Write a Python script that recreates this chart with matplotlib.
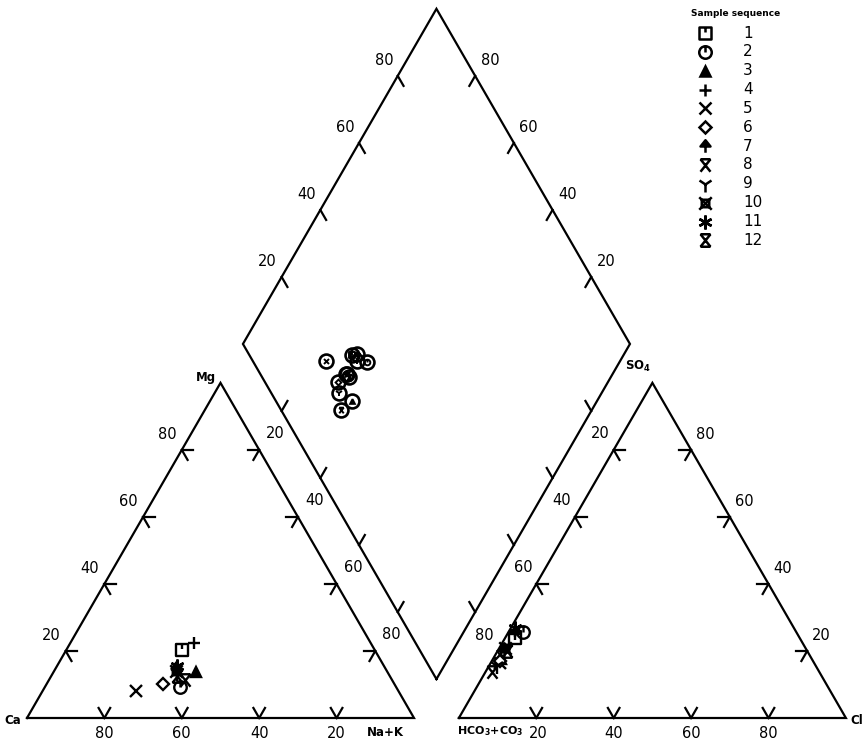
import numpy as np
import matplotlib
matplotlib.use("Agg")
import matplotlib.pyplot as plt
from matplotlib.path import Path

# ---------------- data (percent of meq/L) ----------------
samples = ["1", "2", "3", "4", "5", "6", "7", "8", "9", "10", "11", "12"]
mg  = [20.3, 9.3, 13.8, 22.4, 8.1, 10.1, 15.0, 11.3, 13.5, 14.0, 15.5, 12.5]
nak = [29.8, 34.9, 36.8, 32.0, 24.1, 30.2, 31.0, 35.2, 32.0, 31.5, 31.0, 32.5]
so4 = [24.0, 25.6, 17.5, 25.0, 16.5, 17.0, 20.5, 13.7, 15.5, 21.0, 27.0, 20.0]
cl  = [2.5, 3.8, 2.2, 2.0, 2.5, 2.0, 1.5, 1.8, 2.0, 1.5, 1.0, 2.5]
tick_vals = [20, 40, 60, 80]
legend_title = "Sample sequence"

# ---------------- geometry ----------------
PX = 3.87          # pixels per unit
X0, Y0 = 27, 718   # pixel of Ca vertex
G = 11.6           # gap between triangles
S = np.sqrt(3) / 2

def px2d(px, py):
    return ((px - X0) / PX, (Y0 - py) / PX)

def cat_xy(m, n):
    return n + 0.5 * m, S * m

def an_xy(s, c):
    return 100 + G + c + 0.5 * s, S * s

def dia_xy(camg, so4cl):
    return 100 + G / 2 + 0.5 * (so4cl - camg), S * G + S * (camg + so4cl)

fig = plt.figure(figsize=(8.65, 7.52), dpi=100)
ax = fig.add_axes([0, 0, 1, 1])
ax.set_xlim(-X0 / PX, (865 - X0) / PX)
ax.set_ylim((Y0 - 752) / PX, Y0 / PX)
ax.axis("off")

LW = 1.6
K = "black"

# outlines
cA = np.array([0, 0]); cB = np.array([100, 0]); cC = np.array([50, 100 * S])
off = np.array([100 + G, 0])
aA = cA + off; aB = cB + off; aC = cC + off
B = np.array([100 + G / 2, S * G])
R = B + 100 * np.array([0.5, S])
T = B + np.array([0, 200 * S])
L = B + 100 * np.array([-0.5, S])

for poly in ([cA, cB, cC, cA], [aA, aB, aC, aA], [B, R, T, L, B]):
    p = np.array(poly)
    ax.plot(p[:, 0], p[:, 1], color=K, lw=LW, solid_joinstyle="miter")

TL = 3.0
def dirv(deg):
    return np.array([np.cos(np.radians(deg)), np.sin(np.radians(deg))])

def ticks(P0, P1, angles):
    pts = []
    for t in tick_vals:
        pt = P0 + (P1 - P0) * t / 100
        for a in angles:
            e = pt + TL * dirv(a)
            ax.plot([pt[0], e[0]], [pt[1], e[1]], color=K, lw=LW)
        pts.append(pt)
    return pts

# triangle ticks
cb = ticks(cA, cB, [60, 120])
cl_ = ticks(cA, cC, [0, -60])
cr = ticks(cC, cB, [180, 240])
ab = ticks(aA, aB, [60, 120])
al = ticks(aA, aC, [0, -60])
ar = ticks(aC, aB, [180, 240])
# diamond ticks
dul = ticks(L, T, [-60])
dur = ticks(T, R, [240])
dll = ticks(L, B, [60])
dlr = ticks(R, B, [120])

FS = 10.5
def lab(x, y, s, **kw):
    ax.text(x, y, s, ha="center", va="center", fontsize=FS, color=K, **kw)

# cation labels
for pt, v in zip(cb, tick_vals):
    lab(pt[0], pt[1] - 3.9, str(100 - v))
for pt, v in zip(cl_, tick_vals):
    lab(pt[0] - 3.7, pt[1] + 3.9, str(v))
# anion labels
for pt, v in zip(ab, tick_vals):
    if v == 20:
        continue
    lab(pt[0], pt[1] - 3.9, str(v))
lab(ab[0][0] + 0.6, ab[0][1] - 3.9, "20")
for pt, v in zip(ar, tick_vals):
    lab(pt[0] + 3.7, pt[1] + 4.1, str(100 - v))
# between cation & diamond, diamond & anion
for p1, p2, v in zip(cr, dll, tick_vals):
    lab((p1[0] + p2[0]) / 2 + 1.3, (p1[1] + p2[1]) / 2 - 0.8, str(v))
for p1, p2, v in zip(al[::-1], dlr, tick_vals):
    lab((p1[0] + p2[0]) / 2 - 0.5, (p1[1] + p2[1]) / 2 - 0.9, str(v))
# diamond upper labels
for pt, v in zip(dul, tick_vals):
    lab(pt[0] - 3.6, pt[1] + 3.9, str(v))
for pt, v in zip(dur, tick_vals):
    lab(pt[0] + 3.8, pt[1] + 3.9, str(100 - v))

# vertex labels
BF = dict(fontsize=8.5, fontweight="bold", color=K, va="center")
ax.text(*px2d(13, 720), "Ca", ha="center", **BF)
ax.text(*px2d(206, 378), "Mg", ha="center", **BF)
ax.text(*px2d(385, 733), "Na+K", ha="center", **BF)
BF2 = dict(BF); BF2["fontsize"] = 8
ax.text(*px2d(457, 731), r"HCO$_{\mathbf{3}}$+CO$_{\mathbf{3}}$", ha="left", **BF2)
ax.text(*px2d(857, 720), "Cl", ha="center", **BF)
ax.text(*px2d(638, 366), r"SO$_{\mathbf{4}}$", ha="center", **BF)

# ---------------- markers ----------------
M, LT, CP = Path.MOVETO, Path.LINETO, Path.CLOSEPOLY
m_sq = Path([(-1, -1), (1, -1), (1, 1), (-1, 1), (-1, -1), (0, 1), (0, 0.1)],
            [M, LT, LT, LT, CP, M, LT])
m_circ = Path.make_compound_path(Path.unit_circle(), Path([(0, 1), (0, 0)], [M, LT]))
m7 = Path([(-0.8, 0.0), (0.8, 0.0), (0, 1.0), (-0.8, 0.0), (0, 0), (0, -1)],
          [M, LT, LT, CP, M, LT])
m8 = Path([(-0.8, 1), (0.8, 1), (-0.8, 1), (0.8, -1), (0.8, 1), (-0.8, -1)],
          [M, LT, M, LT, M, LT])
m10 = Path([(-0.6, -0.6), (0.6, -0.6), (0.6, 0.6), (-0.6, 0.6), (-0.6, -0.6),
            (-1, -1), (1, 1), (-1, 1), (1, -1)],
           [M, LT, LT, LT, CP, M, LT, M, LT])
m12 = Path([(-0.8, 1), (0.8, 1), (-0.8, -1), (0.8, -1), (-0.8, 1), (0.8, -1), (0.8, 1), (-0.8, -1)],
           [M, LT, M, LT, M, LT, M, LT])

mstyles = [
    dict(marker=m_sq, mfc="none", ms=8.5),
    dict(marker=m_circ, mfc="none", ms=9),
    dict(marker="^", mfc=K, ms=7.5),
    dict(marker="+", mfc="none", ms=9),
    dict(marker="x", mfc="none", ms=8),
    dict(marker="D", mfc="white", ms=6.5),
    dict(marker=m7, mfc=K, ms=9),
    dict(marker=m8, mfc="none", ms=9),
    dict(marker="1", mfc="none", ms=11),
    dict(marker=m10, mfc="none", ms=9),
    dict(marker=(6, 2, 0), mfc="none", ms=10),
    dict(marker=m12, mfc="none", ms=9),
]

for i in range(len(samples)):
    st = mstyles[i]
    x, y = cat_xy(mg[i], nak[i])
    ax.plot([x], [y], ls="none", color=K, mec=K, mew=1.7, zorder=4, **st)
    x, y = an_xy(so4[i], cl[i])
    ax.plot([x], [y], ls="none", color=K, mec=K, mew=1.7, zorder=4, **st)
    camg = 100 - nak[i]
    sc = so4[i] + cl[i]
    x, y = dia_xy(camg, sc)
    ax.plot([x], [y], ls="none", marker="o", mfc="none", mec=K, mew=1.9, ms=10, zorder=4)
    st2 = dict(st); st2["ms"] = st["ms"] * 0.45
    ax.plot([x], [y], ls="none", color=K, mec=K, mew=1.4, zorder=4, **st2)

# ---------------- legend ----------------
ax.text(*px2d(736, 13), legend_title, ha="center", va="center",
        fontsize=6.5, fontweight="heavy", color=K)
for i, s in enumerate(samples):
    py = 33 + i * 18.85
    st = mstyles[i]
    ax.plot(*px2d(705, py), ls="none", color=K, mec=K, mew=1.8, **st)
    ax.text(*px2d(743, py), s, ha="left", va="center", fontsize=11, color=K)

fig.savefig("out.png", dpi=100, facecolor="white")
